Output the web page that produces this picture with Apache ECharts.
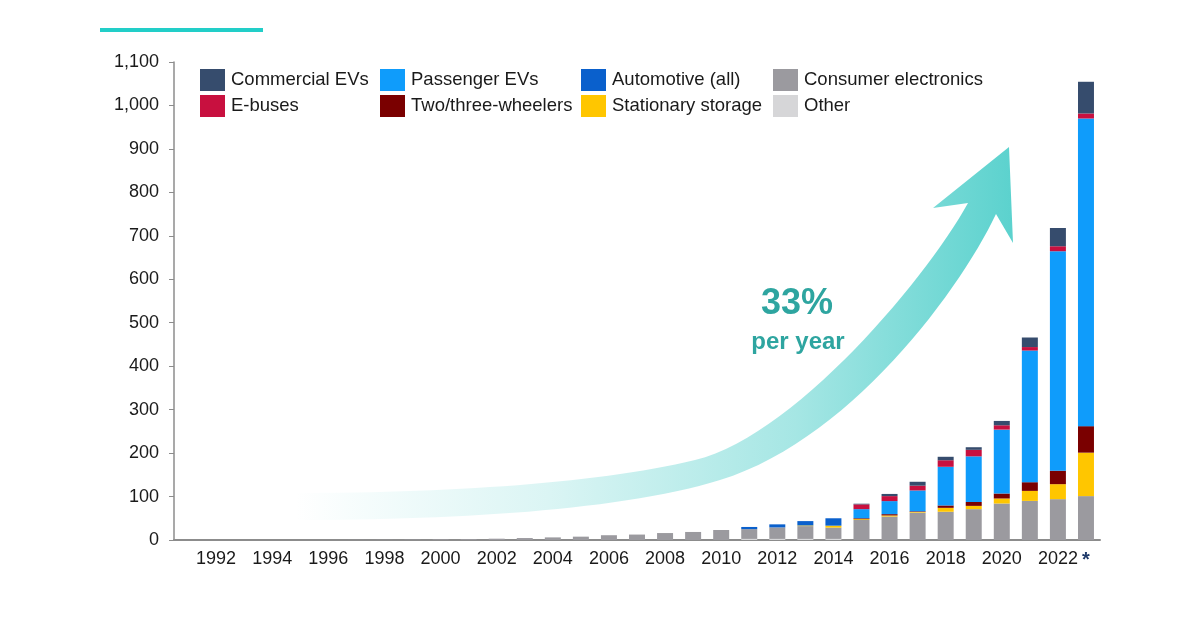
<!DOCTYPE html>
<html>
<head>
<meta charset="utf-8">
<script src="https://cdn.jsdelivr.net/npm/echarts@6/dist/echarts.min.js"></script>
<style>
  html, body { margin: 0; padding: 0; background: #fff; }
  #chart { width: 1200px; height: 630px; }
</style>
</head>
<body>
<div id="chart"></div>
<script>
const years = ['1991', '1992', '1993', '1994', '1995', '1996', '1997', '1998', '1999', '2000',
  '2001', '2002', '2003', '2004', '2005', '2006', '2007', '2008', '2009', '2010',
  '2011', '2012', '2013', '2014', '2015', '2016', '2017', '2018', '2019', '2020',
  '2021', '2022', '2023']

// values per year, 1991..2023
const other = [0, 0, 0, 0, 0, 0, 0, 0, 0, 0,
  0, 0, 0, 0, 0, 0, 0, 0, 0, 0,
  2.5, 2.5, 2.5, 2.5, 0, 0, 0, 0, 0, 0,
  0, 0, 0]
const consumerElectronics = [0, 0, 0, 0, 0, 0, 0.3, 0.5, 0.8, 1.5,
  2, 3, 4.5, 6, 7.7, 11, 12.5, 16, 18.5, 23,
  22.5, 26.5, 29.5, 26, 46, 54, 63, 65, 71, 84,
  90, 94, 101]
const stationaryStorage = [0, 0, 0, 0, 0, 0, 0, 0, 0, 0,
  0, 0, 0, 0, 0, 0, 0, 0, 0, 0,
  0, 0, 1.5, 4.5, 2, 2.5, 1.5, 9, 7.5, 11.5,
  23, 34.5, 100]
const twoThreeWheelers = [0, 0, 0, 0, 0, 0, 0, 0, 0, 0,
  0, 0, 0, 0, 0, 0, 0, 0, 0, 0,
  0, 0, 0, 0, 2, 3, 1.5, 5.5, 9, 11.5,
  20, 31, 61]
const automotiveAll = [0, 0, 0, 0, 0, 0, 0, 0, 0, 0,
  0, 0, 0, 0, 0, 0, 0, 0, 0, 0,
  5, 7, 10, 17, 0, 0, 0, 0, 0, 0,
  0, 0, 0]
const passengerEVs = [0, 0, 0, 0, 0, 0, 0, 0, 0, 0,
  0, 0, 0, 0, 0, 0, 0, 0, 0, 0,
  0, 0, 0, 0, 21, 30, 48, 89, 105, 147,
  303, 505, 708]
const eBuses = [0, 0, 0, 0, 0, 0, 0, 0, 0, 0,
  0, 0, 0, 0, 0, 0, 0, 0, 0, 0,
  0, 0, 0, 0, 11, 11.5, 11, 15, 15, 10,
  8, 11.5, 11.5]
const commercialEVs = [0, 0, 0, 0, 0, 0, 0, 0, 0, 0,
  0, 0, 0, 0, 0, 0, 0, 0, 0, 0,
  0, 0, 0, 0, 1.5, 5, 9, 8, 6, 10,
  22, 42, 73]

const font = '"Liberation Sans", Arial, Helvetica, sans-serif'

const chart = echarts.init(document.getElementById('chart'))

const mkSeries = (name, data, color) => ({
  name,
  type: 'bar',
  stack: 'total',
  data,
  barWidth: 16,
  itemStyle: { color },
  emphasis: { disabled: true }
})

// outline of the decorative growth arrow (sampled cubic curves)
const cubic = (p0, c1, c2, p3, n) => {
  const pts = []
  for (let k = 0; k <= n; k++) {
    const t = k / n, u = 1 - t
    pts.push([
      u * u * u * p0[0] + 3 * u * u * t * c1[0] + 3 * u * t * t * c2[0] + t * t * t * p3[0],
      u * u * u * p0[1] + 3 * u * u * t * c1[1] + 3 * u * t * t * c2[1] + t * t * t * p3[1]
    ])
  }
  return pts
}
const arrowPts = [].concat(
  cubic([295, 493], [450, 493], [600, 483], [695, 460], 30),
  cubic([695, 460], [795, 436], [928, 276], [968, 203], 30),
  [[933, 208], [1009, 147], [1013, 243], [996, 214]],
  cubic([996, 214], [960, 290], [850, 440], [720, 480], 30),
  cubic([720, 480], [620, 511], [450, 520], [295, 520], 30)
)

const legendBase = {
  orient: 'vertical',
  top: 69,
  padding: 0,
  itemWidth: 25,
  itemHeight: 22,
  itemGap: 4,
  icon: 'rect',
  selectedMode: false,
  textStyle: { fontFamily: font, fontSize: 18.5, color: '#1a1a1a', padding: [0, 0, 0, 1] }
}

const option = {
  animation: false,
  backgroundColor: '#fff',
  textStyle: { fontFamily: font },
  legend: [
    Object.assign({}, legendBase, { left: 200, data: ['Commercial EVs', 'E-buses'] }),
    Object.assign({}, legendBase, { left: 380, data: ['Passenger EVs', 'Two/three-wheelers'] }),
    Object.assign({}, legendBase, { left: 581, data: ['Automotive (all)', 'Stationary storage'] }),
    Object.assign({}, legendBase, { left: 773, data: ['Consumer electronics', 'Other'] })
  ],
  grid: {
    left: 174,
    right: 100,
    top: 62,
    bottom: 90,
    containLabel: false
  },
  xAxis: {
    type: 'category',
    data: years,
    axisLine: { lineStyle: { color: '#8c8c8c', width: 2 } },
    axisTick: { show: false },
    axisLabel: {
      interval: (i) => i % 2 === 1 || i === years.length - 1,
      margin: 10,
      fontFamily: font,
      fontSize: 18,
      color: '#1a1a1a',
      formatter: (v) => (v === '2023' ? '{star|*}' : v),
      rich: {
        star: { fontFamily: font, fontSize: 20, fontWeight: 'bold', color: '#1f3a6a' }
      }
    }
  },
  yAxis: {
    type: 'value',
    min: 0,
    max: 1100,
    interval: 100,
    axisLine: { show: true, lineStyle: { color: '#8c8c8c', width: 1.5 } },
    axisTick: { show: true, length: 5, lineStyle: { color: '#8c8c8c' } },
    splitLine: { show: false },
    axisLabel: {
      margin: 15,
      fontFamily: font,
      fontSize: 18,
      color: '#1a1a1a',
      formatter: (v) => v.toLocaleString('en-US')
    }
  },
  graphic: [
    {
      type: 'rect',
      shape: { x: 100, y: 28, width: 163, height: 4 },
      style: { fill: '#22cec8' },
      silent: true
    },
    {
      type: 'polygon',
      z: 0,
      silent: true,
      shape: { points: arrowPts },
      style: {
        fill: {
          type: 'linear',
          x: 295, y: 0, x2: 1011, y2: 0,
          global: true,
          colorStops: [
            { offset: 0, color: 'rgba(92,210,206,0)' },
            { offset: 0.35, color: 'rgba(92,210,206,0.22)' },
            { offset: 0.7, color: 'rgba(92,210,206,0.55)' },
            { offset: 1, color: 'rgba(92,210,206,1)' }
          ]
        }
      }
    },
    {
      type: 'text',
      silent: true,
      style: {
        x: 797, y: 304, text: '33%',
        font: 'bold 36px ' + font,
        fill: '#2ea5a0',
        align: 'center', verticalAlign: 'middle'
      }
    },
    {
      type: 'text',
      silent: true,
      style: {
        x: 798, y: 342, text: 'per year',
        font: 'bold 24px ' + font,
        fill: '#2ea5a0',
        align: 'center', verticalAlign: 'middle'
      }
    }
  ],
  series: [
    mkSeries('Other', other, '#d6d6d8'),
    mkSeries('Consumer electronics', consumerElectronics, '#9b9a9f'),
    mkSeries('Stationary storage', stationaryStorage, '#ffc600'),
    mkSeries('Two/three-wheelers', twoThreeWheelers, '#7a0000'),
    mkSeries('Automotive (all)', automotiveAll, '#0a60cc'),
    mkSeries('Passenger EVs', passengerEVs, '#0f9cfb'),
    mkSeries('E-buses', eBuses, '#c8103f'),
    mkSeries('Commercial EVs', commercialEVs, '#364c6d')
  ]
}

chart.setOption(option)
</script>
</body>
</html>
